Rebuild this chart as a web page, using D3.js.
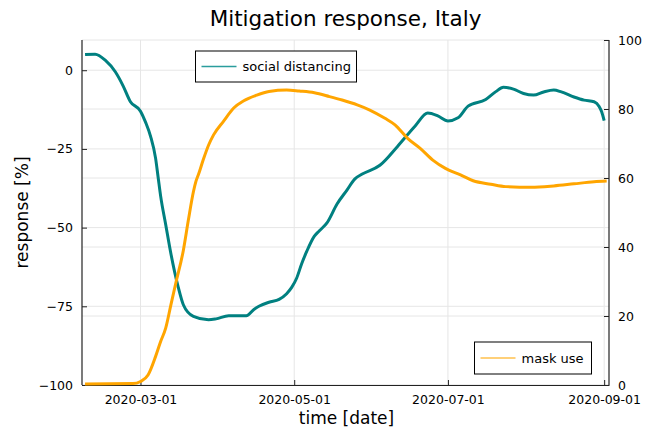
<!DOCTYPE html>
<html>
<head>
<meta charset="utf-8">
<script src="https://cdn.jsdelivr.net/npm/d3@7"></script>
<style>
  body { margin: 0; background: white; }
  text { font-family: "DejaVu Sans", sans-serif; fill: black; }
</style>
</head>
<body>
<svg id="chart" width="654" height="430"></svg>
<script>
// social distancing (left axis, %)
let distDates = ["2020-02-08","2020-02-12","2020-02-16","2020-02-20","2020-02-23","2020-02-26",
  "2020-03-01","2020-03-03","2020-03-05","2020-03-07","2020-03-08","2020-03-09","2020-03-11",
  "2020-03-13","2020-03-16","2020-03-18","2020-03-22","2020-03-28","2020-03-31","2020-04-05",
  "2020-04-12","2020-04-15","2020-04-17","2020-04-21","2020-04-25","2020-04-28","2020-04-30",
  "2020-05-02","2020-05-04","2020-05-06","2020-05-09","2020-05-11","2020-05-14","2020-05-18",
  "2020-05-22","2020-05-25","2020-05-28","2020-06-04","2020-06-11","2020-06-18","2020-06-23",
  "2020-06-27","2020-07-01","2020-07-05","2020-07-09","2020-07-16","2020-07-20","2020-07-23",
  "2020-07-27","2020-07-31","2020-08-04","2020-08-08","2020-08-12","2020-08-15","2020-08-20",
  "2020-08-24","2020-08-28","2020-08-30","2020-08-31","2020-09-01"];
let distValues = [5.0, 5.1, 3.2, -0.5, -4.8, -10,
  -13, -16.5, -21, -28, -34, -40, -49,
  -58, -69, -74.5, -78.2, -79.3, -79, -78,
  -78, -76, -75, -73.7, -72.8, -71, -69,
  -66, -61.4, -57.5, -52.7, -51, -48.5, -42.5,
  -38, -34.6, -33, -30.2, -24.2, -17.7, -13.6,
  -14.5, -16.1, -15.1, -11.4, -9.3, -6.8, -5.4,
  -6, -7.4, -7.9, -6.9, -6.3, -6.9, -8.5,
  -9.5, -10, -11.5, -13.2, -16];

// mask use (right axis, %)
let maskDates = ["2020-02-08","2020-02-27","2020-03-01","2020-03-04","2020-03-07","2020-03-09",
  "2020-03-11","2020-03-13","2020-03-15","2020-03-18","2020-03-20","2020-03-22","2020-03-23",
  "2020-03-24","2020-03-26","2020-03-28","2020-03-30","2020-04-03","2020-04-07","2020-04-11",
  "2020-04-16","2020-04-21","2020-04-28","2020-05-03","2020-05-09","2020-05-15","2020-05-20",
  "2020-05-26","2020-05-31","2020-06-06","2020-06-10","2020-06-15","2020-06-20","2020-06-25",
  "2020-06-30","2020-07-06","2020-07-11","2020-07-18","2020-07-24","2020-08-03","2020-08-12",
  "2020-08-20","2020-08-28","2020-09-02"];
let maskValues = [0.3, 0.4, 1.0, 2.9, 8.3, 12.6,
  16.5, 23, 29.5, 39, 47.8, 56, 59,
  61, 65.5, 69.5, 72.5, 76.5, 80.3, 82.4,
  84, 85.1, 85.5, 85.2, 84.7, 83.6, 82.6,
  81.2, 79.7, 77.3, 75.4, 71.5, 68.6, 65.2,
  62.8, 60.9, 59.2, 58.2, 57.5, 57.3, 57.7,
  58.3, 58.9, 59.1];

let xTicks = ["2020-03-01","2020-05-01","2020-07-01","2020-09-01"];
let leftTicks = [0, -25, -50, -75, -100];
let rightTicks = [0, 20, 40, 60, 80, 100];

let svg = d3.select("#chart");
let parse = d3.timeParse("%Y-%m-%d");

let pLeft = 82, pRight = 609, pTop = 40, pBottom = 385;

let x = d3.scaleTime()
          .domain([new Date(2020, 1, 6, 19), new Date(2020, 8, 2, 22)])
          .range([pLeft, pRight]);
let yL = d3.scaleLinear().domain([-100, 9.6]).range([pBottom, pTop]);
let yR = d3.scaleLinear().domain([0, 100]).range([pBottom, pTop]);

let gridColor = "#e6e6e6";

// grid lines
let grid = svg.append("g");
grid.selectAll(".vx")
    .data(xTicks.map(parse))
    .enter().append("line")
    .attr("x1", d => x(d)).attr("x2", d => x(d))
    .attr("y1", pTop).attr("y2", pBottom)
    .attr("stroke", gridColor);
grid.selectAll(".hl")
    .data(leftTicks)
    .enter().append("line")
    .attr("x1", pLeft).attr("x2", pRight)
    .attr("y1", d => yL(d)).attr("y2", d => yL(d))
    .attr("stroke", gridColor);
grid.selectAll(".hr")
    .data(rightTicks)
    .enter().append("line")
    .attr("x1", pLeft).attr("x2", pRight)
    .attr("y1", d => yR(d)).attr("y2", d => yR(d))
    .attr("stroke", gridColor);

// axes
let xAxis = d3.axisBottom(x)
              .tickValues(xTicks.map(parse))
              .tickFormat(d3.timeFormat("%Y-%m-%d"))
              .tickSizeInner(-5).tickSizeOuter(0).tickPadding(10);
let gx = svg.append("g").attr("transform", `translate(0,${pBottom})`).call(xAxis);

let gl = svg.append("g").attr("transform", `translate(${pLeft},0)`)
            .call(d3.axisLeft(yL).tickValues(leftTicks)
                    .tickSizeInner(-5).tickSizeOuter(0).tickPadding(9));

let gr = svg.append("g").attr("transform", `translate(${pRight},0)`)
            .call(d3.axisRight(yR).tickValues(rightTicks)
                    .tickSizeInner(-5).tickSizeOuter(0).tickPadding(9));

for (let g of [gx, gl, gr]) {
  g.selectAll("text").style("font-size", "12.5px").attr("fill", "black");
  g.selectAll("line").attr("stroke", "#222");
  g.select(".domain").attr("stroke", "#222").attr("stroke-width", 1.2);
}
gl.select(".domain").attr("d", `M0,${pBottom}V${pTop}`);
gr.select(".domain").attr("d", `M0,${pBottom}V${pTop}`);

// lines
let distLine = d3.line()
                 .x((d, i) => x(parse(distDates[i])))
                 .y(d => yL(d))
                 .curve(d3.curveMonotoneX);
let maskLine = d3.line()
                 .x((d, i) => x(parse(maskDates[i])))
                 .y(d => yR(d))
                 .curve(d3.curveMonotoneX);

svg.append("path")
   .attr("d", distLine(distValues))
   .attr("fill", "none")
   .attr("stroke", "#008080")
   .attr("stroke-width", 3);

svg.append("path")
   .attr("d", maskLine(maskValues))
   .attr("fill", "none")
   .attr("stroke", "#ffa500")
   .attr("stroke-width", 3);

// legends
function legend(x0, y0, w, h, color, label) {
  let g = svg.append("g").attr("transform", `translate(${x0},${y0})`);
  g.append("rect").attr("width", w).attr("height", h)
   .attr("fill", "white").attr("stroke", "black").attr("stroke-width", 1);
  g.append("line").attr("x1", 6).attr("x2", 41)
   .attr("y1", h / 2).attr("y2", h / 2)
   .attr("stroke", color).attr("stroke-width", 1.5);
  g.append("text").attr("x", 47).attr("y", h / 2).attr("dy", "0.35em")
   .style("font-size", "13px").text(label);
}
legend(195.5, 51, 161, 31, "#2a9d9d", "social distancing");
legend(474.5, 342, 117, 32, "#ffc04d", "mask use");

// titles
svg.append("text").attr("x", (pLeft + pRight) / 2).attr("y", 26)
   .attr("text-anchor", "middle").style("font-size", "21.5px")
   .text("Mitigation response, Italy");
svg.append("text").attr("x", (pLeft + pRight) / 2 + 1).attr("y", 424)
   .attr("text-anchor", "middle").style("font-size", "17px")
   .text("time [date]");
svg.append("text")
   .attr("transform", `translate(28,${(pTop + pBottom) / 2}) rotate(-90)`)
   .attr("text-anchor", "middle").style("font-size", "17px")
   .text("response [%]");
</script>
</body>
</html>
